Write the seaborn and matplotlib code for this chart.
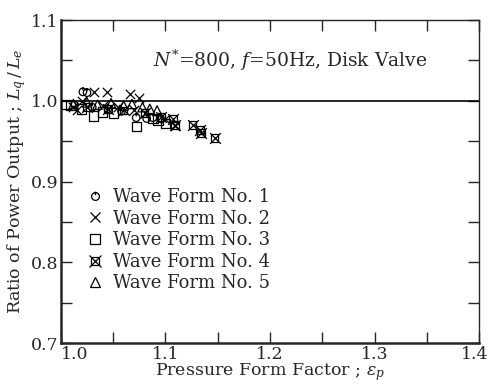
import numpy as np
import pandas as pd
import matplotlib
matplotlib.use("Agg")
import matplotlib.pyplot as plt
import matplotlib.transforms as mtransforms
import seaborn as sns
from matplotlib.path import Path
from matplotlib.lines import Line2D
from matplotlib.legend_handler import HandlerTuple

# données
wf1_x = [1.021, 1.025, 1.013, 1.030, 1.045, 1.058, 1.072, 1.082, 1.088, 1.095]
wf1_y = [1.011, 1.010, 0.995, 0.992, 0.990, 0.987, 0.979, 0.978, 0.979, 0.978]
wf2_x = [1.012, 1.015, 1.032, 1.044, 1.066, 1.075, 1.020, 1.040, 1.055, 1.070, 1.100, 1.109]
wf2_y = [0.992, 0.989, 1.011, 1.011, 1.009, 1.003, 1.000, 0.994, 0.992, 0.988, 0.978, 0.969]
wf3_x = [1.005, 1.009, 1.020, 1.031, 1.040, 1.050, 1.072, 1.088, 1.093, 1.100]
wf3_y = [0.995, 0.994, 0.990, 0.981, 0.986, 0.985, 0.968, 0.978, 0.976, 0.972]
wf4_x = [1.025, 1.045, 1.060, 1.080, 1.096, 1.107, 1.109, 1.126, 1.133, 1.134, 1.147]
wf4_y = [0.992, 0.990, 0.988, 0.985, 0.980, 0.978, 0.970, 0.970, 0.964, 0.960, 0.954]
wf5_x = [1.012, 1.025, 1.035, 1.048, 1.060, 1.068, 1.078, 1.085, 1.092]
wf5_y = [0.996, 0.998, 0.995, 0.997, 0.994, 0.996, 0.992, 0.990, 0.988]
labels = ["Wave Form No. 1", "Wave Form No. 2", "Wave Form No. 3",
          "Wave Form No. 4", "Wave Form No. 5"]

sns.set_style("ticks")
plt.rcParams['font.family'] = ['DejaVu Serif']
plt.rcParams['mathtext.fontset'] = 'dejavuserif'

# cercle avec petit trait en haut
circ = Path.unit_circle()
trait = Path([(0, 1.25), (0, 0.35)], [Path.MOVETO, Path.LINETO])
m_circle = Path.make_compound_path(circ, trait)

fig = plt.figure(figsize=(4.91, 3.85), dpi=100)
ax = fig.add_axes([0.124, 0.109, 0.852, 0.839])

ax.axhline(1.0, color='black', lw=1.2, zorder=1)

kw = dict(s=45, facecolor='none', edgecolor='black', linewidth=0.9, ax=ax, zorder=3)
sns.scatterplot(x=wf1_x, y=wf1_y, marker=m_circle, **kw)
sns.scatterplot(x=wf2_x, y=wf2_y, marker='x', s=45, color='black', linewidth=0.9, ax=ax, zorder=3)
sns.scatterplot(x=wf3_x, y=wf3_y, marker='s', **kw)
sns.scatterplot(x=wf4_x, y=wf4_y, marker='s', s=30, facecolor='none', edgecolor='black', linewidth=0.9, ax=ax, zorder=3)
sns.scatterplot(x=wf4_x, y=wf4_y, marker='x', s=60, color='black', linewidth=0.9, ax=ax, zorder=3)
sns.scatterplot(x=wf5_x, y=wf5_y, marker='^', **kw)

ax.set_xlim(1.0, 1.4)
ax.set_ylim(0.7, 1.1)
ax.set_xticks([1.0, 1.1, 1.2, 1.3, 1.4])
ax.set_xticks(np.arange(1.05, 1.4, 0.1), minor=True)
ax.set_yticks([0.7, 0.8, 0.9, 1.0, 1.1])
ax.set_yticks(np.arange(0.75, 1.1, 0.1), minor=True)
ax.tick_params(which='both', direction='in', top=True, right=True, labelsize=12.5, pad=2)
ax.tick_params(which='major', length=8, width=1)
ax.tick_params(which='minor', length=8, width=1)
xlabs = ax.get_xticklabels()
xlabs[0].set_horizontalalignment('left')
# décaler un peu "1.4" pour qu'il ne soit pas coupé
xlabs[-1].set_transform(xlabs[-1].get_transform() +
                        mtransforms.ScaledTranslation(-3 / 72, 0, fig.dpi_scale_trans))
for s in ['left', 'bottom']:
    ax.spines[s].set_linewidth(1.8)
for s in ['top', 'right']:
    ax.spines[s].set_linewidth(1.0)

ax.set_xlabel(r"Pressure Form Factor ; $\varepsilon_p$", fontsize=12.5, labelpad=-1)
ax.set_ylabel(r"Ratio of Power Output ; $L_q\,/\,L_e$", fontsize=12.5, labelpad=2)

ax.text(1.219, 1.050, r"$N^{*}$=800, $f$=50Hz, Disk Valve", fontsize=13.5,
        ha='center', va='center')

# légende
mk = dict(color='black', markerfacecolor='none', linestyle='none', markeredgewidth=0.9)
h1 = Line2D([], [], marker=m_circle, markersize=7, **mk)
h2 = Line2D([], [], marker='x', markersize=7, **mk)
h3 = Line2D([], [], marker='s', markersize=7, **mk)
h4a = Line2D([], [], marker='s', markersize=5.5, **mk)
h4b = Line2D([], [], marker='x', markersize=8, **mk)
h5 = Line2D([], [], marker='^', markersize=7, **mk)
ax.legend([h1, h2, h3, (h4a, h4b), h5], labels, loc='upper left',
          bbox_to_anchor=(0.06, 0.48), frameon=False, fontsize=13,
          handler_map={tuple: HandlerTuple(ndivide=1)},
          handlelength=1.0, handletextpad=0.5, labelspacing=0.2,
          borderaxespad=0, borderpad=0)

fig.savefig("out.png", dpi=100)
